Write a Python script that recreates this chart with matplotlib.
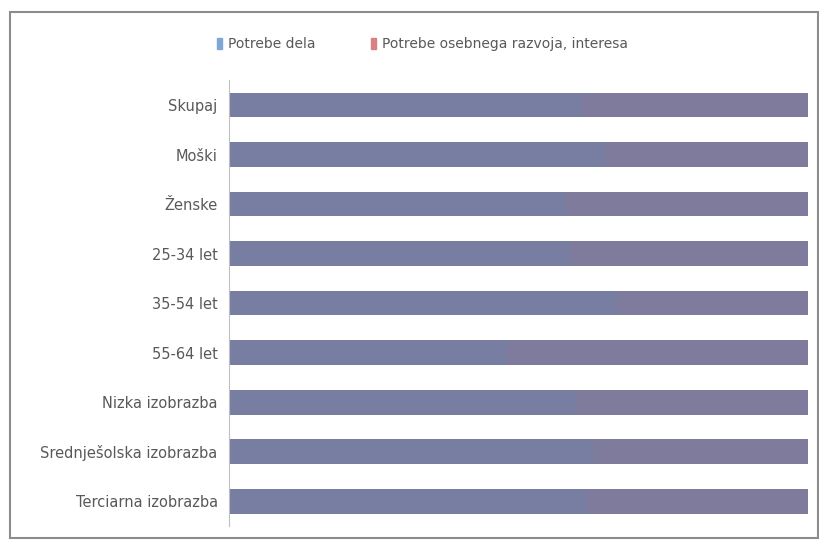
import matplotlib.pyplot as plt
from matplotlib.patches import Patch, Rectangle
import numpy as np

# Podatki (deleži v %)
skupine = ["Skupaj", "Moški", "Ženske", "25-34 let", "35-54 let", "55-64 let",
           "Nizka izobrazba", "Srednješolska izobrazba", "Terciarna izobrazba"]
potrebe_dela = [61, 65, 58, 59, 67, 48, 60, 63, 62]
potrebe_razvoja = [39, 35, 42, 41, 33, 52, 40, 37, 38]
serije = ["Potrebe dela", "Potrebe osebnega razvoja, interesa"]

barva_dela = "#787ea2"
barva_razvoja = "#7e7b9d"

fig = plt.figure(figsize=(8.2, 5.42), dpi=100)
ax = fig.add_axes([0.279, 0.0295, 0.706, 0.8225])

y = np.arange(len(skupine))
ax.barh(y, potrebe_dela, height=0.5, color=barva_dela)
ax.barh(y, potrebe_razvoja, left=potrebe_dela, height=0.5, color=barva_razvoja)

ax.set_xlim(0, 100)
ax.set_ylim(len(skupine) - 0.5, -0.5)
ax.set_yticks(y)
ax.set_yticklabels(skupine, color="#595959", fontsize=10.5)
ax.tick_params(axis="y", length=0, pad=8)
ax.set_xticks([])
for s in ["top", "right", "bottom"]:
    ax.spines[s].set_visible(False)
ax.spines["left"].set_color("#bfbfbf")

# legenda
rocaji = [Patch(color="#7fa6d8"), Patch(color="#d98080")]
fig.legend(rocaji, serije, loc="center", bbox_to_anchor=(0.515, 0.918), ncol=2,
           frameon=False, fontsize=10, handlelength=0.4, handleheight=0.9,
           handletextpad=0.4, columnspacing=4.0, labelcolor="#595959")

# okvir
fig.patches.append(Rectangle((0.012, 0.007), 0.985, 0.97, transform=fig.transFigure,
                             fill=False, edgecolor="#8c8c8c", linewidth=1.5))

fig.savefig("out.png", dpi=100)
